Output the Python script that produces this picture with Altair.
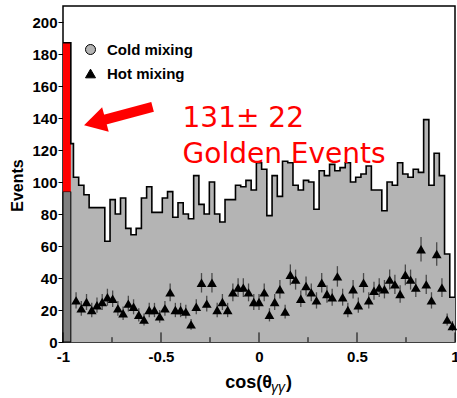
import altair as alt
import numpy as np
import pandas as pd

# ---------------- data ----------------
n_bins = 75
x_range = [-1.0, 1.0]
# cold-mixing histogram (events per bin), bins of width 2/75 on [-1, 1]
cold = [94, 124, 103, 98, 92, 84, 84, 84, 63, 89,
        80, 90, 71, 67, 71, 90, 97, 81, 81, 90,
        94, 78, 87, 80, 77, 104, 86, 80, 100, 80,
        75, 89, 89, 98, 97, 101, 95, 112, 108, 79,
        104, 91, 113, 112, 98, 95, 101, 100, 83, 107,
        104, 111, 107, 109, 112, 100, 103, 105, 110, 95,
        95, 82, 100, 98, 112, 105, 103, 108, 106, 139,
        98, 118, 104, 55, 28]
# hot-mixing points, bins 3 .. 75
hot_first_bin = 3
hot = [26, 21, 25, 20, 23, 25, 28, 27, 21, 18,
       24, 22, 17, 14, 20, 20, 16, 21, 31, 20,
       20, 19, 11, 22, 37, 24, 37, 20, 25, 20,
       31, 34, 34, 31, 25, 25, 31, 17, 25, 33,
       19, 42, 39, 27, 35, 31, 26, 37, 30, 28,
       41, 28, 20, 33, 23, 37, 26, 32, 34, 33,
       39, 36, 30, 42, 39, 34, 58, 36, 26, 55,
       34, 14, 10]
signal_top = 187          # golden events stacked on the first bin
signal_edge = -0.96       # right edge of the golden-event bar
y_max = 210
y_ticks = list(range(0, 201, 20))
x_major = [-1, -0.5, 0, 0.5, 1]
x_minor = [-0.75, -0.25, 0.25, 0.75]
series_names = ["Cold mixing", "Hot mixing"]
label_value = "131\u00b1 22"
label_title = "Golden Events"
label_pos = {"x": -0.39, "y1": 134.5, "y2": 112.0}
arrow = {"x_tail": -0.543, "y_tail": 147.0, "x_head": -0.838, "y_head": 137.3}

# ---------------- tables ----------------
edges = np.linspace(x_range[0], x_range[1], n_bins + 1)
lo = edges[:-1].copy()
lo[1] = signal_edge
hist = pd.DataFrame({"x": list(lo) + [x_range[1]],
                     "y": [signal_top] + cold[1:] + [cold[-1]]})
centers = (edges[:-1] + edges[1:]) / 2
hot_df = pd.DataFrame({"x": centers[hot_first_bin - 1:], "y": hot,
                       "series": series_names[1]})
first_bin = pd.DataFrame({"x": [x_range[0]], "x2": [signal_edge],
                          "y": [0], "y2": [cold[0]], "ytop": [signal_top]})
ticks_df = pd.DataFrame({"x": x_major + x_minor,
                         "zero": [0.0] * (len(x_major) + len(x_minor)),
                         "len": [6.0] * len(x_major) + [3.0] * len(x_minor)})
label_df = pd.DataFrame({"x": [label_pos["x"]] * 2,
                         "y": [label_pos["y1"], label_pos["y2"]],
                         "t": [label_value, label_title]})
arrow_df = pd.DataFrame([arrow])
title_df = pd.DataFrame({"t": ["cos(\u03b8", "\u03b3\u03b3", ")"]})

xs = alt.Scale(domain=x_range, nice=False, zero=False)
ys = alt.Scale(domain=[0, y_max], nice=False)
FONT = "Liberation Sans"

x_axis = alt.Axis(values=x_major, ticks=False, domain=False, grid=False,
                  labelFlush=False, labelOverlap=False, labelFont=FONT,
                  labelFontWeight="bold", labelFontSize=15,
                  labelColor="black", labelPadding=7,
                  labelExpr="'' + datum.value", title=None)
y_axis = alt.Axis(values=y_ticks, domain=False, grid=False, tickSize=5,
                  tickColor="black", tickWidth=1, labelFont=FONT,
                  labelOverlap=False, labelFlush=False,
                  labelFontWeight="bold", labelFontSize=15, labelColor="black",
                  labelPadding=1, title="Events", titleFont=FONT,
                  titleFontWeight="bold", titleFontSize=16, titleColor="black",
                  titleAngle=270, titleX=-46, titleY=179,
                  titleAlign="center", titleBaseline="middle")


def X(f):
    return alt.X(f, type="quantitative", scale=xs, axis=x_axis)


def Y(f):
    return alt.Y(f, type="quantitative", scale=ys, axis=y_axis)


area = alt.Chart(hist).mark_area(interpolate="step-after", color="#b4b4b4").encode(
    x=X("x"), y=Y("y"))
outline = alt.Chart(hist).mark_line(interpolate="step-after", color="black",
                                    strokeWidth=1.6).encode(x=X("x"), y=Y("y"))
dark = alt.Chart(first_bin).mark_rect(color="#7f7f7f", stroke="black",
                                      strokeWidth=1).encode(
    x=X("x"), x2="x2:Q", y=Y("y"), y2="y2:Q")
red = alt.Chart(first_bin).mark_rect(color="#ff0000").encode(
    x=X("x"), x2="x2:Q", y=Y("y2"), y2="ytop:Q")

err = alt.Chart(hot_df).transform_calculate(
    lo="datum.y - sqrt(datum.y)", hi="datum.y + sqrt(datum.y)"
).mark_rule(color="#4a4a4a", strokeWidth=1.3).encode(
    x=X("x"), y=Y("lo"), y2="hi:Q")

leg = alt.Legend(title=None, orient="none", legendX=20, legendY=36, padding=0,
                 labelFont=FONT, labelFontWeight="bold", labelFontSize=15,
                 labelColor="black", symbolSize=100, symbolStrokeColor="black",
                 symbolStrokeWidth=1, rowPadding=8, labelOffset=9)
pts = alt.Chart(hot_df).mark_point(filled=True, size=95, opacity=1).encode(
    x=X("x"), y=Y("y"),
    shape=alt.Shape("series:N", scale=alt.Scale(domain=series_names,
                                                range=["circle", "triangle-up"]),
                    legend=leg),
    color=alt.Color("series:N", scale=alt.Scale(domain=series_names,
                                                range=["#b4b4b4", "black"]),
                    legend=leg))

ticks = alt.Chart(ticks_df).mark_rule(color="black", strokeWidth=1).encode(
    x=X("x"), y=Y("zero"), y2="len:Q")

shaft = alt.Chart(arrow_df).mark_rule(color="#ff0000", strokeWidth=10).encode(
    x=X("x_tail"), y=Y("y_tail"), x2="x_head:Q", y2="y_head:Q")
head = alt.Chart(arrow_df).mark_point(shape="triangle-up", filled=True,
                                      color="#ff0000", size=650, angle=255,
                                      opacity=1).encode(
    x=X("x_head"), y=Y("y_head"))

labels = alt.Chart(label_df).mark_text(
    align="left", baseline="alphabetic", color="#ff0000",
    font="Comic Sans MS, DejaVu Sans", fontSize=28).encode(
    x=X("x"), y=Y("y"), text="t:N")

xt1 = alt.Chart(title_df).transform_filter("datum.t == 'cos(\u03b8'").mark_text(
    align="right", baseline="alphabetic", font=FONT, fontWeight="bold",
    fontSize=18, color="black").encode(
    x=alt.value(209), y=alt.value(382), text="t:N")
xt2 = alt.Chart(title_df).transform_filter("datum.t == '\u03b3\u03b3'").mark_text(
    align="left", baseline="alphabetic", font=FONT, fontStyle="italic",
    fontSize=14, color="black").encode(
    x=alt.value(208), y=alt.value(386), text="t:N")
xt3 = alt.Chart(title_df).transform_filter("datum.t == ')'").mark_text(
    align="left", baseline="alphabetic", font=FONT, fontWeight="bold",
    fontSize=18, color="black").encode(
    x=alt.value(223), y=alt.value(382), text="t:N")

chart = alt.layer(area, dark, red, outline, err, pts, ticks, shaft, head,
                  labels, xt1, xt2, xt3).properties(
    width=392, height=336,
    autosize=alt.AutoSizeParams(type="none"),
    padding={"left": 63, "top": 6, "right": 2, "bottom": 56},
    background="white",
).configure_view(stroke="black", strokeWidth=1.5).configure_axis(labelOverlap=False)

chart.save("out.html", embed_options={"renderer": "svg", "actions": False})
